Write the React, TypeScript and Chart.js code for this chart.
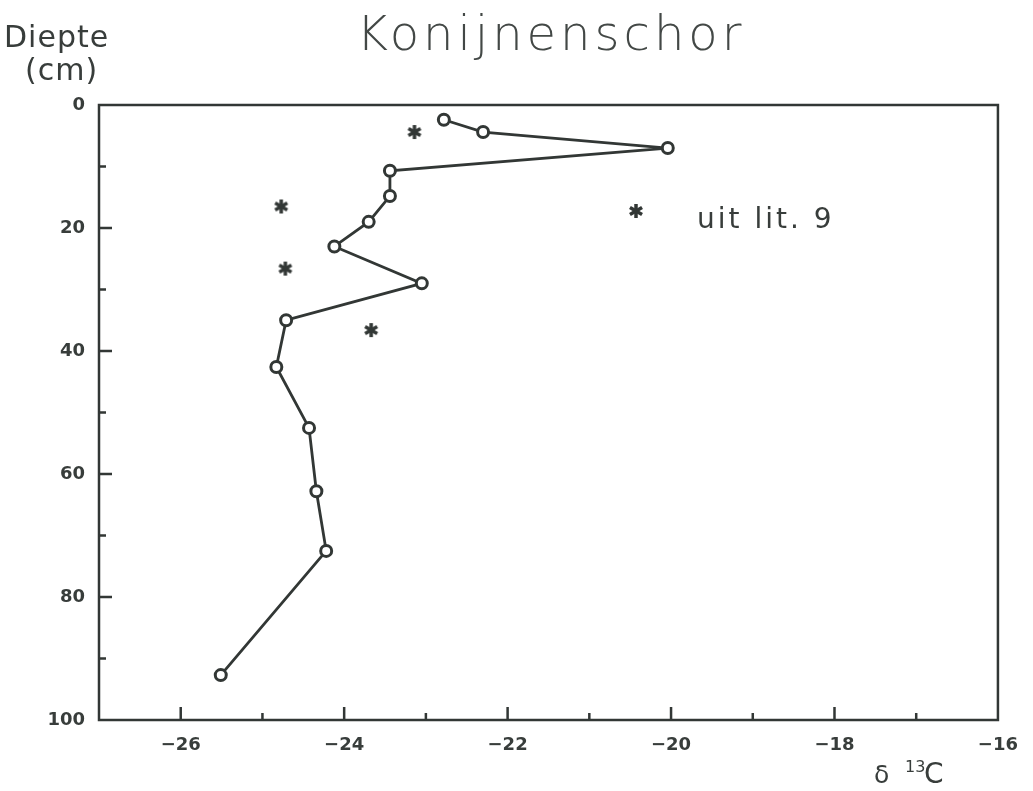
import React, { useEffect, useRef } from "react";
import { Chart, registerables } from "chart.js";

Chart.register(...registerables);

// Measured profile (line with open circles)
const profileD13C = [-22.78, -22.3, -20.04, -23.44, -23.44, -23.7, -24.12, -23.05, -24.71, -24.83, -24.43, -24.34, -24.22, -25.51];
const profileDepth = [2.4, 4.4, 7.0, 10.7, 14.8, 19.0, 23.0, 29.0, 35.0, 42.6, 52.5, 62.8, 72.5, 92.7];

// Literature values (asterisks)
const litD13C = [-23.14, -24.77, -24.72, -23.67];
const litDepth = [4.4, 16.5, 26.6, 36.6];

const xMin = -27;
const xMax = -16;
const yMin = 0;
const yMax = 100;
const xLabelValues = [-26, -24, -22, -20, -18, -16];
const yLabelValues = [0, 20, 40, 60, 80, 100];

const titleText = "Konijnenschor";
const yTitleLine1 = "Diepte";
const yTitleLine2 = "(cm)";
const legendText = "uit lit. 9";

const INK = "#323735";
const TEXT = "#383d3b";
const FONT = '"DejaVu Sans", "Liberation Sans", sans-serif';

function makeStar(): HTMLCanvasElement {
  const c = document.createElement("canvas");
  c.width = 18;
  c.height = 18;
  const g = c.getContext("2d")!;
  g.strokeStyle = INK;
  g.lineWidth = 3.5;
  g.lineCap = "butt";
  const r = 7;
  for (let i = 0; i < 3; i++) {
    const ang = Math.PI / 2 + (i * Math.PI) / 3;
    g.beginPath();
    g.moveTo(9 + r * Math.cos(ang), 9 + r * Math.sin(ang));
    g.lineTo(9 - r * Math.cos(ang), 9 - r * Math.sin(ang));
    g.stroke();
  }
  return c;
}

const fmtX = (v: number) => (v < 0 ? "\u2212" + Math.abs(v) : String(v));

export default function App() {
  const ref = useRef<HTMLCanvasElement | null>(null);

  useEffect(() => {
    if (!ref.current) return;
    const star = makeStar();

    const decor = {
      id: "decor",
      beforeDatasetsDraw(chart: any) {
        const { ctx, chartArea: a, scales } = chart;
        const xs = scales.x;
        const ys = scales.y;
        ctx.save();
        ctx.strokeStyle = INK;
        ctx.lineWidth = 2.5;
        ctx.strokeRect(a.left, a.top, a.right - a.left, a.bottom - a.top);
        ctx.lineWidth = 2.5;
        ctx.beginPath();
        for (const t of xs.ticks) {
          const v = t.value;
          if (v <= xMin || v >= xMax) continue;
          const px = xs.getPixelForValue(v);
          const len = v % 2 === 0 ? 13 : 7;
          ctx.moveTo(px, a.bottom);
          ctx.lineTo(px, a.bottom - len);
        }
        for (const t of ys.ticks) {
          const v = t.value;
          if (v <= yMin || v >= yMax) continue;
          const py = ys.getPixelForValue(v);
          const len = v % 20 === 0 ? 13 : 7;
          ctx.moveTo(a.left, py);
          ctx.lineTo(a.left + len, py);
        }
        ctx.stroke();
        ctx.restore();
      },
      afterDraw(chart: any) {
        const { ctx } = chart;
        ctx.save();
        ctx.textBaseline = "alphabetic";
        // Title
        ctx.fillStyle = "#434846";
        ctx.font = `300 48px ${FONT}`;
        (ctx as any).letterSpacing = "4px";
        ctx.textAlign = "center";
        ctx.fillText(titleText, 551, 50);
        // Y axis title
        ctx.fillStyle = TEXT;
        ctx.textAlign = "left";
        ctx.font = `30px ${FONT}`;
        (ctx as any).letterSpacing = "1px";
        ctx.fillText(yTitleLine1, 4, 47);
        ctx.fillText(yTitleLine2, 25, 80);
        // Legend
        ctx.drawImage(star, 627, 202);
        ctx.font = `28px ${FONT}`;
        (ctx as any).letterSpacing = "3px";
        ctx.fillText(legendText, 697, 228);
        // X axis title: δ 13C
        (ctx as any).letterSpacing = "0px";
        ctx.font = `25px ${FONT}`;
        ctx.fillText("\u03b4", 874, 783);
        ctx.font = `16px ${FONT}`;
        ctx.fillText("13", 905, 772);
        ctx.font = `28px ${FONT}`;
        ctx.fillText("C", 924, 783);
        ctx.restore();
      },
    };

    const chart = new Chart(ref.current, {
      type: "scatter",
      data: {
        datasets: [
          {
            label: "Konijnenschor",
            data: profileD13C.map((x, i) => ({ x, y: profileDepth[i] })),
            showLine: true,
            borderColor: INK,
            borderWidth: 2.8,
            pointStyle: "circle",
            pointRadius: 5.5,
            pointBorderWidth: 3,
            pointBorderColor: INK,
            pointBackgroundColor: "#ffffff",
            clip: false as any,
          },
          {
            label: legendText,
            data: litD13C.map((x, i) => ({ x, y: litDepth[i] })),
            showLine: false,
            pointStyle: star as any,
            pointRadius: 8,
          },
        ],
      },
      options: {
        animation: false,
        responsive: false,
        devicePixelRatio: 1,
        layout: { padding: { top: 105, right: 33, left: 0, bottom: 0 } },
        plugins: {
          legend: { display: false },
          title: { display: false },
          tooltip: { enabled: false },
        },
        scales: {
          x: {
            type: "linear",
            min: xMin,
            max: xMax,
            grid: { display: false, drawTicks: false },
            border: { display: false },
            ticks: {
              stepSize: 1,
              autoSkip: false,
              maxRotation: 0,
              padding: 15,
              color: TEXT,
              font: { family: FONT, size: 18, weight: "bold" },
              callback: (v: any) => (xLabelValues.includes(Number(v)) ? fmtX(Number(v)) : ""),
            },
            afterFit: (s: any) => {
              s.height = 71;
            },
          },
          y: {
            type: "linear",
            reverse: true,
            min: yMin,
            max: yMax,
            grid: { display: false, drawTicks: false },
            border: { display: false },
            ticks: {
              stepSize: 10,
              autoSkip: false,
              padding: 14,
              color: TEXT,
              font: { family: FONT, size: 18, weight: "bold" },
              callback: (v: any) => (yLabelValues.includes(Number(v)) ? String(v) : ""),
            },
            afterFit: (s: any) => {
              s.width = 99;
            },
          },
        },
      },
      plugins: [decor],
    });
    return () => chart.destroy();
  }, []);

  return (
    <div style={{ position: "absolute", left: 0, top: 0, width: 1033, height: 791, background: "#fff" }}>
      <canvas ref={ref} width={1033} height={791} style={{ display: "block" }} />
    </div>
  );
}
